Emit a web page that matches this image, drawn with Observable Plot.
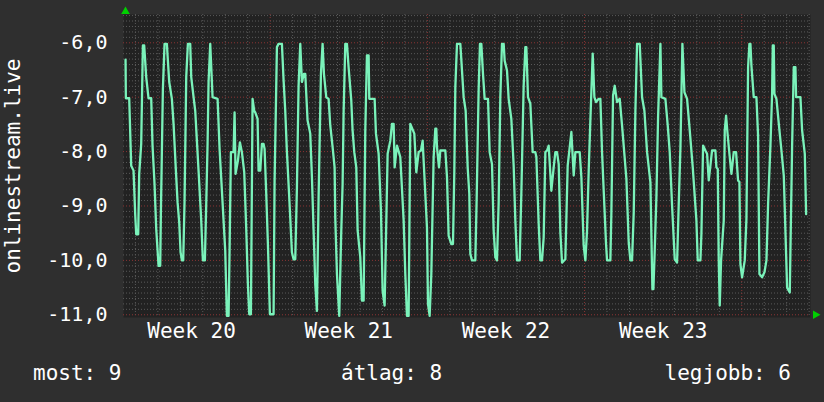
<!DOCTYPE html>
<html><head><meta charset="utf-8">
<script src="https://cdn.jsdelivr.net/npm/d3@7"></script>
<script src="https://cdn.jsdelivr.net/npm/@observablehq/plot@0.6"></script>
<style>
body{margin:0;background:#2f2f2f;}
#wrap{position:relative;width:824px;height:402px;background:#2f2f2f;font-family:"DejaVu Sans Mono",monospace;color:#fff;overflow:hidden;}
#wrap svg{display:block;}
.leg{position:absolute;top:360px;font-size:21px;line-height:26px;white-space:pre;color:#fff;}
</style></head><body><div id="wrap"></div>
<script>
// time in days from the left edge of the chart
const days = [
0.091,0.105,0.254,0.343,0.447,0.521,0.566,0.655,0.699,0.788,0.863,0.922,1.011,1.115,1.234,1.293,1.382,1.457,1.561,1.635,1.664,1.754,1.828,1.932,1.961,2.036,2.154,2.229,2.333,2.407,2.481,2.541,2.600,2.659,2.719,2.793,2.867,2.971,3.016,3.120,3.194,3.342,3.461,3.535,3.624,3.684,3.743,3.788,3.862,3.966,4.189,4.278,4.382,4.530,4.575,4.604,4.679,4.723,4.783,4.901,4.946,4.990,
5.094,5.183,5.272,5.376,5.465,5.539,5.599,5.673,5.747,5.821,5.866,5.970,6.014,6.089,6.163,6.237,6.282,6.356,6.430,6.519,6.683,6.727,6.831,6.905,7.054,7.128,7.202,7.277,7.380,7.499,7.573,7.648,7.722,7.796,7.871,7.945,8.034,8.093,8.197,8.316,8.390,8.464,8.539,8.613,8.687,8.791,8.865,8.925,9.028,9.132,9.207,9.311,9.400,9.429,9.504,9.607,9.697,9.756,9.801,9.875,9.949,10.023,10.142,10.201,
10.276,10.365,10.425,10.543,10.618,10.692,10.766,10.840,10.915,10.944,11.182,11.241,11.360,11.464,11.538,11.627,11.761,11.880,11.954,12.028,12.073,12.177,12.325,12.474,12.548,12.622,12.696,12.771,12.949,13.038,13.142,13.246,13.320,13.513,13.558,13.632,13.706,13.810,13.884,13.929,13.958,14.048,14.107,14.330,14.404,14.478,14.597,14.671,14.731,14.775,14.849,14.998,15.146,15.235,15.325,
15.398,15.443,15.517,15.665,15.725,15.814,15.873,15.933,16.007,16.081,16.230,16.304,16.408,16.482,16.556,16.631,16.705,16.779,16.853,16.928,16.972,17.076,17.150,17.269,17.373,17.447,17.521,17.640,17.714,17.818,17.893,17.937,18.011,18.115,18.219,18.338,18.383,18.487,18.561,18.635,18.709,18.784,18.858,18.932,19.051,19.155,19.229,19.303,19.378,19.452,19.526,19.674,19.778,19.942,20.046,20.120,20.313,20.387,
20.491,20.566,20.640,20.714,20.788,20.892,20.967,21.041,21.160,21.234,21.308,21.382,21.486,21.531,21.679,21.724,21.798,21.872,21.976,22.095,22.199,22.392,22.496,22.570,22.644,22.719,22.793,22.867,22.986,23.090,23.194,23.313,23.461,23.550,23.595,23.639,23.728,23.803,23.907,23.951,24.129,24.233,24.322,24.426,24.545,24.649,24.723,24.797,24.886,24.976,25.094,25.213,25.347,
25.510,25.569,25.688,25.732,25.807,25.910,25.985,26.059,26.133,26.207,26.356,26.400,26.460,26.504,26.549,26.608,26.727,26.772,26.831,26.890,26.980,27.069,27.173,27.276,27.365,27.425,27.469,27.544,27.662,27.737,27.811,27.870,27.915,27.959,28.063,28.182,28.256,28.316,28.435,28.539,28.628,28.702,28.806,28.880,28.910,28.954,28.984,29.073,29.207,29.296,29.400,29.548,29.667,29.771,29.845,29.919,29.949,30.142,30.217,30.336,30.395
];
const values = [
-6.31,-7.02,-7.02,-8.26,-8.35,-9.15,-9.52,-9.52,-8.41,-7.86,-6.05,-6.05,-6.63,-7.02,-7.02,-7.89,-8.6,-9.42,-10.1,-10.1,-9.15,-6.85,-6.02,-6.02,-6.23,-6.72,-7.03,-7.49,-8.35,-8.93,-9.3,-9.85,-10.0,-10.0,-8.9,-6.63,-6.02,-6.02,-6.63,-7.0,-7.25,-8.35,-9.27,-10.0,-10.0,-8.96,-7.86,-6.72,-6.02,-7.0,-7.03,-7.95,-8.72,-9.82,-10.56,-11.02,-11.02,-9.82,-8.01,-8.01,-7.28,-8.41,
-8.17,-7.83,-8.01,-8.38,-9.42,-10.44,-10.99,-10.99,-7.03,-7.25,-7.28,-7.4,-8.35,-8.35,-7.86,-7.86,-7.95,-8.78,-9.7,-10.99,-10.99,-8.56,-6.08,-6.02,-6.02,-6.69,-7.25,-8.01,-8.84,-9.85,-9.98,-9.98,-8.66,-6.79,-6.02,-6.72,-6.57,-6.57,-7.43,-7.67,-8.47,-9.45,-10.44,-10.93,-8.84,-6.57,-6.02,-6.57,-7.0,-7.03,-7.52,-7.92,-8.29,-9.21,-10.25,-11.02,-9.45,-8.6,-7.28,-6.02,-6.02,-6.45,-7.06,-7.61,
-8.01,-8.29,-9.45,-9.94,-10.74,-10.74,-7.61,-6.23,-6.23,-7.03,-7.03,-7.67,-8.04,-9.09,-10.56,-10.83,-8.04,-7.8,-7.49,-7.49,-8.29,-7.89,-8.1,-9.27,-10.25,-11.02,-11.02,-7.49,-7.67,-8.38,-8.01,-7.98,-7.8,-9.4,-10.8,-11.02,-10.25,-8.1,-7.58,-7.58,-7.92,-8.29,-7.98,-7.98,-8.47,-9.55,-9.7,-9.7,-8.35,-6.82,-6.02,-6.02,-7.0,-7.25,-8.29,
-8.78,-9.88,-10.0,-10.0,-8.87,-6.85,-6.02,-6.02,-6.57,-7.03,-7.03,-8.01,-8.23,-9.45,-9.94,-10.0,-8.93,-7.0,-6.02,-6.02,-6.33,-6.51,-7.03,-7.4,-8.26,-9.27,-10.0,-10.0,-8.78,-6.79,-6.08,-6.08,-7.0,-7.12,-8.01,-8.01,-8.1,-9.33,-10.0,-10.0,-9.58,-8.01,-7.98,-7.89,-8.72,-8.29,-8.01,-8.01,-8.23,-9.48,-10.04,-9.98,-8.26,-7.64,-8.44,-8.01,-8.01,-8.47,
-9.73,-10.0,-9.45,-8.35,-7.43,-6.2,-7.0,-7.09,-7.03,-7.03,-8.01,-8.72,-9.7,-10.0,-10.0,-9.12,-6.97,-6.79,-7.09,-7.03,-7.52,-8.5,-9.67,-10.0,-10.0,-9.12,-7.25,-6.02,-6.02,-7.0,-7.25,-8.01,-8.56,-10.53,-10.53,-10.0,-8.84,-7.37,-6.02,-7.0,-7.03,-7.52,-8.01,-8.99,-9.98,-10.04,-8.96,-7.95,-6.02,-6.91,-7.03,-7.61,-8.29,
-9.27,-10.0,-10.0,-9.52,-7.89,-7.98,-8.04,-8.53,-8.26,-7.98,-7.98,-8.29,-8.32,-10.0,-10.83,-10.0,-9.27,-7.61,-7.34,-7.64,-8.04,-8.41,-8.01,-8.01,-8.53,-8.56,-10.07,-10.31,-10.0,-9.24,-6.45,-6.02,-6.02,-6.42,-7.0,-7.0,-7.71,-10.25,-10.31,-10.22,-10.0,-8.96,-7.89,-6.94,-6.05,-6.05,-6.94,-7.03,-7.61,-7.98,-8.44,-10.5,-10.59,-7.9,-6.45,-6.45,-7.0,-7.0,-7.61,-8.04,-9.15
];
const yTicks = [-6, -7, -8, -9, -10, -11];
const weekLabels = ["Week 20", "Week 21", "Week 22", "Week 23"];
const weekCenters = [3.03, 10.03, 17.03, 24.03];
const weekLines = [6.53, 13.53, 20.53, 27.53];
const dayLines = d3.range(0.53, 30.6, 1);
const minorY = d3.range(-11, -5.45, 0.1).map(v => Math.round(v * 10) / 10).filter(v => Math.abs(v - Math.round(v)) > 0.01);
const yLabel = "onlinestream.live";
const legendLabels = ["most", "átlag", "legjobb"];
const legendValues = [9, 8, 6];

const series = days.map((d, i) => ({day: d, value: values[i]}));
const fmt = v => v.toFixed(1).replace(".", ",");
const weekMap = new Map(weekCenters.map((c, i) => [c, weekLabels[i]]));

const chart = Plot.plot({
  width: 824,
  height: 350,
  marginTop: 14,
  marginLeft: 123,
  marginRight: 14,
  marginBottom: 33,
  style: {background: "#2f2f2f", color: "#fff", fontFamily: "DejaVu Sans Mono, monospace"},
  x: {domain: [0, 30.59]},
  y: {domain: [-11.05, -5.48]},
  marks: [
    Plot.frame({fill: "#222222", stroke: "none"}),
    Plot.ruleY(minorY, {stroke: "#5a5a5a", strokeWidth: 1, strokeDasharray: "1,2"}),
    Plot.ruleX(dayLines.filter(d => !weekLines.some(w => Math.abs(w - d) < 0.01)), {stroke: "#5a5a5a", strokeWidth: 1, strokeDasharray: "1,2"}),
    Plot.ruleY(yTicks, {stroke: "#8a3434", strokeWidth: 1, strokeDasharray: "1,2"}),
    Plot.ruleX(weekLines, {stroke: "#8a3434", strokeWidth: 1, strokeDasharray: "1,2"}),
    Plot.line(series, {x: "day", y: "value", stroke: "#7af2ba", strokeWidth: 2.3, curve: "linear"}),
    Plot.axisY(yTicks, {tickSize: 0, tickPadding: 16, tickFormat: fmt, fontSize: 20, fill: "#fff", label: null}),
    Plot.axisX(weekCenters, {tickSize: 0, tickPadding: 6, tickFormat: c => weekMap.get(c), fontSize: 21, fill: "#fff", label: null}),
    Plot.text([yLabel], {frameAnchor: "left", dx: -110, rotate: -90, textAnchor: "middle", lineAnchor: "middle", fontSize: 21, fill: "#fff"}),
    Plot.dot([0], {frameAnchor: "top-left", dx: 2, dy: -3, symbol: "triangle", r: 3.2, fill: "#00d000", stroke: "none"}),
    Plot.dot([0], {frameAnchor: "bottom-right", dx: 5, dy: -2.7, symbol: "triangle", rotate: 90, r: 3.2, fill: "#00d000", stroke: "none"})
  ]
});
const wrap = document.getElementById("wrap");
wrap.appendChild(chart);
const pos = [{left: "33px"}, {left: "341px"}, {right: "33px"}];
legendLabels.forEach((l, i) => {
  const el = document.createElement("div");
  el.className = "leg";
  el.textContent = `${l}: ${legendValues[i]}`;
  Object.assign(el.style, pos[i]);
  wrap.appendChild(el);
});
</script></body></html>
